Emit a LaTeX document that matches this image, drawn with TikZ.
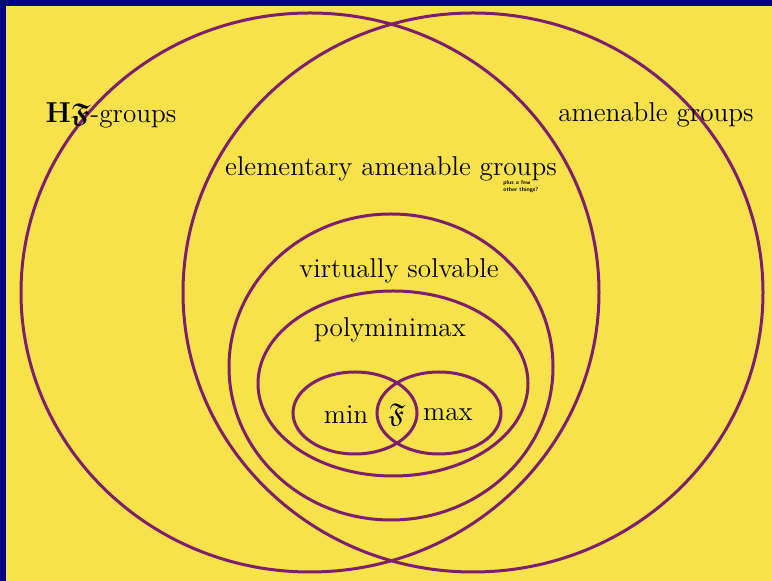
\documentclass[tikz,border=0pt]{standalone}
\usepackage{amsmath,amssymb}
\definecolor{bgyellow}{HTML}{F8E24B}
\definecolor{frameblue}{HTML}{000088}
\definecolor{setpurple}{HTML}{7E1F6C}
\tikzset{
  setline/.style={draw=setpurple, line width=1.5pt},
  setlabel/.style={font=\fontsize{13.6}{16}\selectfont, inner sep=0pt},
  smallnote/.style={font=\fontsize{2.9}{3.3}\selectfont\sffamily\bfseries, align=left, inner sep=0pt}
}
\begin{document}
\begin{tikzpicture}[x=0.5pt, y=-0.5pt]
  % frame and background
  \fill[frameblue] (0,0) rectangle (772,581);
  \fill[bgyellow] (6,6) rectangle (772,581);
  \useasboundingbox (0,0) rectangle (772,581);

  % sets
  \draw[setline] (310,292.5) ellipse [x radius=289, y radius=279.5];
  \draw[setline] (473,292.5) ellipse [x radius=290, y radius=279.5];
  \draw[setline] (391,367) ellipse [x radius=162, y radius=153];
  \draw[setline] (393,383.5) ellipse [x radius=135, y radius=92.5];
  \draw[setline] (355,413) ellipse [x radius=62, y radius=41];
  \draw[setline] (439,413) ellipse [x radius=62, y radius=41];

  % labels
  \node[setlabel] (hf) at (111,115) {$\mathbf{H}\boldsymbol{\mathfrak{F}}$-groups};
  \node[setlabel] (amen) at (656,115) {amenable groups};
  \node[setlabel] (elem) at (391,169) {elementary amenable groups};
  \node[smallnote, anchor=north west] (note) at (503,180) {plus a few\\other things?};
  \node[setlabel] (vsolv) at (399,271) {virtually solvable};
  \node[setlabel] (poly) at (390,330) {polyminimax};
  \node[setlabel] (min) at (346,415) {min};
  \node[setlabel] (frak) at (397,415) {$\mathfrak{F}$};
  \node[setlabel] (max) at (448,415) {max};
\end{tikzpicture}
\end{document}
